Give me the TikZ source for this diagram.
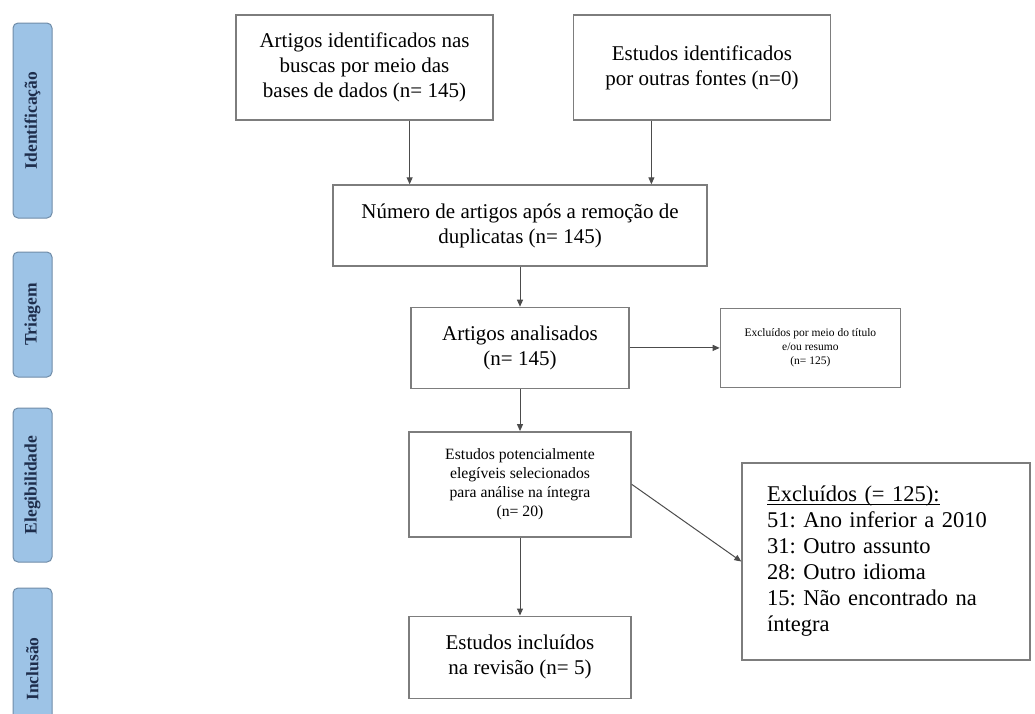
\documentclass[tikz,border=0pt]{standalone}
\usepackage{fontspec}
\setmainfont{Liberation Serif}
\usepackage{xcolor}
\usetikzlibrary{arrows.meta,positioning,calc}
\definecolor{phasefill}{RGB}{157,195,230}
\definecolor{phaseline}{RGB}{112,140,168}
\definecolor{phasetext}{RGB}{30,45,75}
\definecolor{boxline}{RGB}{125,125,125}
\frenchspacing
\setlength\parindent{0pt}
\newcommand\sublinhado[1]{\setbox0\hbox{#1}\rlap{\rule[-3pt]{\wd0}{0.9pt}}\box0}

\begin{document}
\begin{tikzpicture}[
  x=1pt, y=-1pt,
  node distance=40pt and 90pt,
  box/.style={rectangle, draw=boxline, line width=1.4pt, align=center, font=\fontsize{21}{25}\selectfont},
  phase/.style={rectangle, draw=phaseline, fill=phasefill, rounded corners=5pt, line width=1pt, rotate=90, minimum height=39pt, text=phasetext, font=\bfseries\fontsize{17.5}{19}\selectfont},
  arrow/.style={-{Triangle[length=7pt,width=6pt]}, line width=1pt, draw=black!70}
]
\useasboundingbox (0,0) rectangle (1035,713);

% fases
\begin{scope}
\clip (0,0) rectangle (1035,713);
\node[phase, minimum width=195pt] (idph) at (32.5,120.5) {Identificação};
\node[phase, minimum width=125pt] (triph) at (32.5,314.5) {Triagem};
\node[phase, minimum width=154pt] (elph) at (32.5,485) {Elegibilidade};
\node[phase, minimum width=162pt] (inph) at (32.5,669) {Inclusão};
\end{scope}

% caixas
\node[box, minimum width=257pt, minimum height=105pt] (src) at (364.5,67.5) {Artigos identificados nas\\buscas por meio das\\bases de dados (n= 145)};
\node[box, minimum width=257pt, minimum height=105pt, right=79pt of src] (other) {Estudos identificados\\por outras fontes (n=0)};
\node[box, minimum width=374pt, minimum height=81pt] (numero) at (520,225.5) {Número de artigos após a remoção de\\duplicatas (n= 145)};
\node[box, minimum width=218pt, minimum height=81pt, below=of numero] (analis) {Artigos analisados\\(n= 145)};
\node[box, minimum width=180pt, minimum height=79pt, right=of analis, font=\fontsize{11.5}{14}\selectfont] (excl1) {Excluídos por meio do título\\e/ou resumo\\(n= 125)};
\node[box, minimum width=222pt, minimum height=105pt, below=42pt of analis, font=\fontsize{15.7}{19}\selectfont] (eleg) {Estudos potencialmente\\elegíveis selecionados\\para análise na íntegra\\(n= 20)};
\node[box, minimum width=222pt, minimum height=82pt, below=78pt of eleg] (incl) {Estudos incluídos\\na revisão (n= 5)};
\node[box, minimum height=197pt, inner xsep=25pt, text width=238pt, align=left, font=\fontsize{22.5}{26}\selectfont] (excl2) at (886,561.5) {\sublinhado{Excluídos (= 125):}\\51: Ano inferior a 2010\\31: Outro assunto\\28: Outro idioma\\15: Não encontrado na\\íntegra};

% setas
\coordinate (in1) at ($(numero.north west)!0.206!(numero.north east)$);
\coordinate (in2) at ($(numero.north west)!0.850!(numero.north east)$);
\draw[arrow] (src.south -| in1) -- (in1);
\draw[arrow] (other.south -| in2) -- (in2);
\draw[arrow] (numero) -- (analis);
\draw[arrow] (analis) -- (excl1);
\draw[arrow] (analis) -- (eleg);
\draw[arrow] (eleg) -- (incl);
\draw[arrow] (eleg.east) -- (excl2.west);
\end{tikzpicture}
\end{document}
